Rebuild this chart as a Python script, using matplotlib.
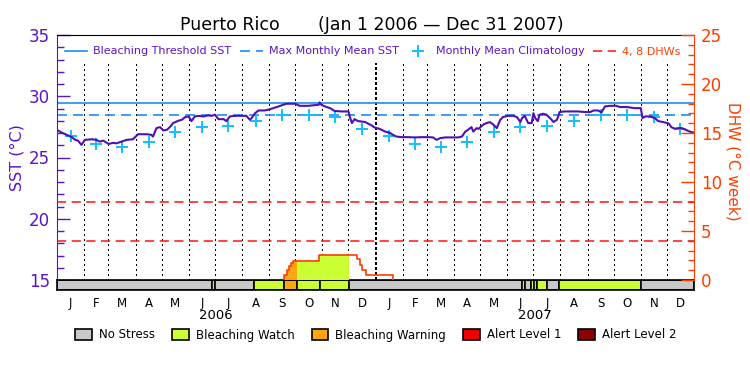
import numpy as np
import matplotlib
matplotlib.use("Agg")
import matplotlib.pyplot as plt
from matplotlib.patches import Patch
from matplotlib.lines import Line2D
from matplotlib.ticker import MultipleLocator
import matplotlib.transforms as mtransforms

# ---------------- data ----------------
title_site = "Puerto Rico"
title_range = "(Jan 1 2006 \u2014 Dec 31 2007)"
years = ["2006", "2007"]
month_letters = ["J", "F", "M", "A", "M", "J", "J", "A", "S", "O", "N", "D"]
month_days = [31, 28, 31, 30, 31, 30, 31, 31, 30, 31, 30, 31]

# daily SST (days since Jan 1 2006)
sst_days = [0, 5, 11, 17, 21, 24, 28, 32, 40, 45, 49, 53, 59, 65, 68, 74, 80, 87, 93,
            103, 108, 110, 114, 118, 122, 126, 130, 133, 139, 143, 147, 151, 154, 158,
            162, 168, 173, 177, 181, 185, 191, 194, 198, 204, 212, 217, 221, 223, 227,
            231, 238, 242, 248, 254, 259, 263, 273, 278, 288, 296, 300, 301, 303, 307,
            313, 318, 326, 334, 336, 338, 341, 345, 353, 357, 360, 364, 370, 376, 382,
            385, 389, 395, 403, 410, 418, 426, 431, 435, 439, 445, 452, 460, 464, 468,
            471, 475, 477, 481, 483, 487, 490, 496, 500, 504, 508, 511, 517, 523, 527,
            531, 533, 536, 540, 544, 546, 548, 551, 553, 557, 561, 565, 569, 573, 576,
            582, 590, 597, 605, 611, 615, 620, 624, 628, 634, 641, 645, 653, 662, 669,
            671, 674, 680, 685, 689, 695, 701, 704, 708, 712, 716, 722, 725, 729]
sst_values = [27.25, 27.05, 26.85, 26.66, 26.44, 26.38, 26.03, 26.44, 26.49, 26.44, 26.30,
              26.38, 26.11, 26.20, 26.15, 26.30, 26.44, 26.49, 26.90, 26.90, 26.85, 26.71,
              27.40, 27.48, 27.21, 27.26, 27.53, 27.81, 28.00, 28.08, 28.30, 28.35, 27.97,
              28.35, 28.40, 28.35, 28.44, 28.40, 28.49, 28.13, 28.13, 27.97, 28.35, 28.40,
              28.40, 28.40, 28.08, 28.22, 28.62, 28.84, 28.84, 28.90, 29.03, 29.17, 29.30,
              29.39, 29.39, 29.22, 29.22, 29.28, 29.30, 29.50, 29.30, 29.17, 29.03, 28.80,
              28.76, 28.76, 28.22, 27.81, 28.13, 27.97, 27.90, 27.75, 27.64, 27.45, 27.33,
              27.12, 26.99, 26.85, 26.71, 26.66, 26.66, 26.64, 26.66, 26.66, 26.64, 26.44,
              26.58, 26.64, 26.64, 26.64, 26.71, 27.12, 27.26, 27.48, 27.12, 27.40, 27.33,
              27.60, 27.75, 27.89, 27.69, 27.40, 28.08, 28.30, 28.40, 28.40, 28.30, 27.90,
              28.22, 28.40, 27.81, 27.81, 28.62, 28.22, 27.97, 28.49, 28.57, 28.49, 28.22,
              27.90, 28.08, 28.71, 28.76, 28.76, 28.76, 28.71, 28.71, 28.84, 28.84, 28.68,
              29.17, 29.22, 29.22, 29.12, 29.12, 29.03, 29.03, 28.22, 28.35, 28.35, 28.22,
              27.97, 27.89, 27.78, 27.48, 27.35, 27.40, 27.40, 27.21, 27.12, 27.04]

clim_monthly = [26.72, 26.09, 25.84, 26.25, 27.07, 27.48, 27.61, 28.02, 28.47, 28.47, 28.30, 27.32]
mmm_sst = 28.47
bleaching_threshold = 29.47
dhw_levels = [4, 8]

dhw_days = [260.5, 263.9, 266.2, 268.5, 270.8, 300.5, 344.2, 347.0, 350.0, 354.0, 384.7]
dhw_values = [0.5, 1.0, 1.45, 1.75, 1.95, 2.55, 2.1, 1.55, 1.05, 0.5, 0.0]

stress_start = [0, 177.2, 181.0, 226.1, 260.5, 275.4, 301.4, 335.0, 533.2, 536.3, 543.2,
                546.6, 550.1, 561.9, 575.6, 669.3]
stress_end = [177.2, 181.0, 226.1, 260.5, 275.4, 301.4, 335.0, 533.2, 536.3, 543.2, 546.6,
              550.1, 561.9, 575.6, 669.3, 730]
stress_level = [0, 1, 0, 1, 2, 1, 1, 0, 1, 0, 1, 0, 1, 0, 1, 0]
stress_names = ["No Stress", "Bleaching Watch", "Bleaching Warning", "Alert Level 1", "Alert Level 2"]

# ---------------- styles ----------------
PURPLE = "#5A14C8"
SST_COL = "#5010B4"
BLUE = "#1E8CF0"
CYAN = "#10C0FF"
RED = "#FF1010"
ORANGE_RED = "#FF3C00"
stress_colors = ["#C8C8C8", "#CCFF33", "#FFA511", "#EE0000", "#8B0000"]

W, H = 750, 375
L, R, T, B, BB = 57, 694, 35, 280, 290

fig = plt.figure(figsize=(7.5, 3.75), dpi=100)
ax = fig.add_axes([L / W, (H - B) / H, (R - L) / W, (B - T) / H])
axb = fig.add_axes([L / W, (H - BB) / H, (R - L) / W, (BB - B) / H])
ax2 = ax.twinx()

ndays = 2 * sum(month_days)
month_starts = np.concatenate([[0], np.cumsum(month_days * 2)])
month_mids = (month_starts[:-1] + month_starts[1:]) / 2.0

# SST axis
ax.set_xlim(0, ndays)
ax.set_ylim(15, 35)
ax.set_xticks([])
ax.set_yticks([15, 20, 25, 30, 35])
ax.yaxis.set_minor_locator(MultipleLocator(1))
ax.tick_params(axis="y", which="major", direction="in", length=9.4, width=1,
               color=PURPLE, labelcolor=PURPLE, labelsize=12, pad=5)
ax.tick_params(axis="y", which="minor", direction="in", length=5, width=1, color=PURPLE)
ax.spines["left"].set_color(PURPLE)
ax.spines["top"].set_color("black")
ax.spines["bottom"].set_visible(False)
ax.spines["right"].set_visible(False)

# month dotted lines
yfrac = (B - 63) / (B - T)
for i, d in enumerate(month_starts[1:-1]):
    if d == sum(month_days):
        ax.axvline(d, ymin=0, ymax=yfrac, color="black", lw=1.3, ls=(0, (1.5, 1.5)),
                   antialiased=False)
    else:
        ax.axvline(d, ymin=0, ymax=yfrac, color="black", lw=1.0, ls=(0, (1, 2.2)),
                   antialiased=False)

ax.axhline(bleaching_threshold, color=BLUE, lw=1.2)
ax.axhline(mmm_sst, color=BLUE, lw=1.2, ls=(0, (6, 3.6)))
ax.plot(month_mids, clim_monthly * 2, ls="none", marker="+", color=CYAN,
        markersize=8, markeredgewidth=1.4)
ax.plot(sst_days, sst_values, color=SST_COL, lw=1.5)

# DHW axis
ax2.set_xlim(0, ndays)
ax2.set_ylim(0, 25)
ax2.set_yticks([0, 5, 10, 15, 20, 25])
ax2.yaxis.set_minor_locator(MultipleLocator(1))
ax2.tick_params(axis="y", which="major", direction="in", length=9.4, width=1,
                color=ORANGE_RED, labelcolor=ORANGE_RED, labelsize=12, pad=5)
ax2.tick_params(axis="y", which="minor", direction="in", length=4.5, width=1, color=ORANGE_RED)
ax2.spines["right"].set_color(ORANGE_RED)
for s in ["left", "top", "bottom"]:
    ax2.spines[s].set_visible(False)

for lev in dhw_levels:
    ax2.axhline(lev, color=RED, lw=1.1, ls=(0, (6, 3.6)))

dd = np.array(dhw_days)
dv = np.array(dhw_values)


def dhw_at(x):
    idx = np.searchsorted(dd, x, side="right") - 1
    return 0.0 if idx < 0 else dv[idx]


for s, e, lv in zip(stress_start, stress_end, stress_level):
    if lv == 0:
        continue
    pts = [s] + [d for d in dhw_days if s < d < e] + [e]
    vals = [dhw_at(p) for p in pts]
    ax2.fill_between(pts, vals, step="post", color=stress_colors[lv], lw=0)

ax2.step([dhw_days[0]] + dhw_days, [0] + dhw_values, where="post", color=ORANGE_RED, lw=1.2)

# stress bar
axb.set_xlim(0, ndays)
axb.set_ylim(0, 1)
widths = [e - s for s, e in zip(stress_start, stress_end)]
axb.bar(stress_start, [1] * len(stress_start), width=widths, bottom=0, align="edge",
        color=[stress_colors[l] for l in stress_level], edgecolor="black", linewidth=1.2)
axb.set_yticks([])
axb.set_xticks(month_mids)
axb.set_xticklabels(month_letters * 2, fontsize=8.5)
axb.tick_params(axis="x", length=0, pad=5)
for s in axb.spines.values():
    s.set_color("black")
    s.set_linewidth(1.2)
trans = mtransforms.blended_transform_factory(axb.transData, axb.transAxes)
for i, yr in enumerate(years):
    axb.text((i + 0.5) * sum(month_days), -2.55, yr, transform=trans,
             ha="center", va="center", fontsize=9.5)

# titles and axis labels
fig.text(180 / W, 1 - 29.5 / H, title_site, ha="left", va="baseline", fontsize=12.5)
fig.text(318 / W, 1 - 29.5 / H, title_range, ha="left", va="baseline", fontsize=12.5)
fig.text(17.5 / W, 1 - 158 / H, "SST (\u00b0C)", rotation=90, ha="center", va="center",
         color=PURPLE, fontsize=11.5)
fig.text(732.5 / W, 1 - 161.5 / H, "DHW (\u00b0C week)", rotation=270, ha="center",
         va="center", color=ORANGE_RED, fontsize=11)

# top legend
top_handles = [
    Line2D([], [], color=BLUE, lw=1.2),
    Line2D([], [], color=BLUE, lw=1.2, ls=(0, (6, 3.6))),
    Line2D([], [], color=CYAN, ls="none", marker="+", markersize=8, markeredgewidth=1.4),
    Line2D([], [], color=RED, lw=1.1, ls=(0, (6, 3.6))),
]
top_labels = ["Bleaching Threshold SST", "Max Monthly Mean SST",
              "Monthly Mean Climatology", "4, 8 DHWs"]
leg = fig.legend(top_handles, top_labels, loc="center", ncol=4,
                 bbox_to_anchor=(372.5 / W, 1 - 51.5 / H), frameon=False, fontsize=8,
                 handlelength=2.0, handletextpad=0.55, columnspacing=0.8,
                 borderpad=0, borderaxespad=0)
for t, c in zip(leg.get_texts(), [PURPLE, PURPLE, PURPLE, ORANGE_RED]):
    t.set_color(c)

# bottom legend
bot_handles = [Patch(facecolor=c, edgecolor="black", linewidth=1.2) for c in stress_colors]
leg2 = fig.legend(bot_handles, stress_names, loc="center", ncol=5,
                  bbox_to_anchor=(376 / W, 1 - 335 / H), frameon=False, fontsize=8.5,
                  handlelength=1.4, handleheight=1.0, handletextpad=0.6,
                  columnspacing=1.45, borderpad=0, borderaxespad=0)

fig.savefig("out.png", dpi=100)
